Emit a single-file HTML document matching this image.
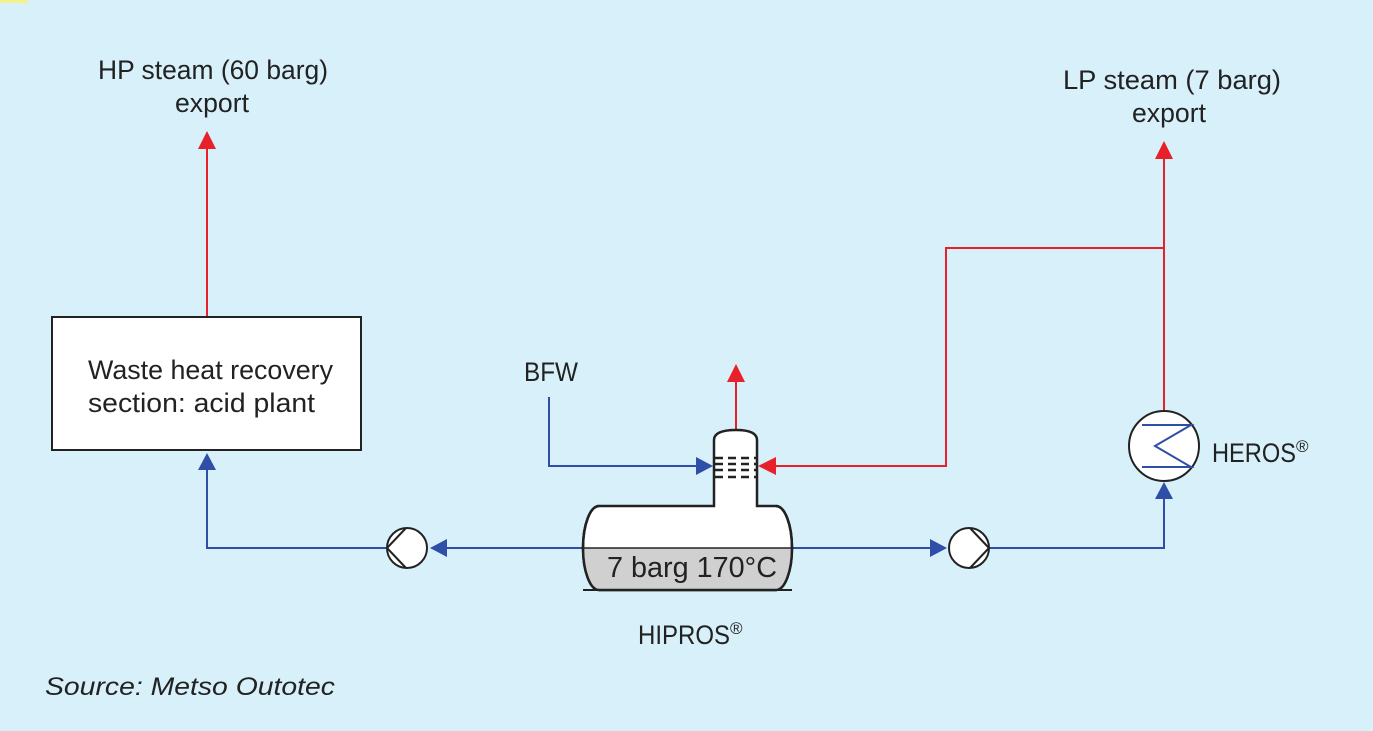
<!DOCTYPE html>
<html><head><style>
body{margin:0;background:#d7f0fa;}
svg{display:block;font-family:"Liberation Sans",sans-serif;}
text{fill:#222;font-size:27px;}
</style></head><body>
<svg width="1373" height="731" viewBox="0 0 1373 731">
<rect x="0" y="0" width="1373" height="731" fill="#d7f0fa"/>
<rect x="0" y="0" width="28" height="3" fill="#f4f08a"/>
<g fill="none" stroke-width="2">
<polyline points="207,460 207,548 387,548" stroke="#2f4ea8"/>
<line x1="440" y1="548" x2="583" y2="548" stroke="#2f4ea8"/>
<polyline points="549,397 549,466 700,466" stroke="#2f4ea8"/>
<line x1="792" y1="548" x2="935" y2="548" stroke="#2f4ea8"/>
<polyline points="989,548 1164,548 1164,492" stroke="#2f4ea8"/>
<line x1="207" y1="317" x2="207" y2="145" stroke="#e8202a"/>
<line x1="736" y1="430" x2="736" y2="380" stroke="#e8202a"/>
<polyline points="770,466 946,466 946,248 1164,248" stroke="#e8202a"/>
<line x1="1164" y1="412" x2="1164" y2="155" stroke="#e8202a"/>
</g>
<g fill="#2f4ea8">
<polygon points="207,453 198,470 216,470"/>
<polygon points="430,548 447,539 447,557"/>
<polygon points="713,466 696,457 696,475"/>
<polygon points="947,548 930,539 930,557"/>
<polygon points="1164,482 1155,499 1173,499"/>
</g>
<g fill="#e8202a">
<polygon points="207,131 198,149 216,149"/>
<polygon points="736,364 727,382 745,382"/>
<polygon points="758,466 776,457 776,475"/>
<polygon points="1164,141 1155,159 1173,159"/>
</g>
<rect x="52" y="317" width="309" height="133" fill="#fff" stroke="#222" stroke-width="2"/>
<text x="88" y="379" textLength="245" lengthAdjust="spacingAndGlyphs">Waste heat recovery</text>
<text x="88" y="412" textLength="227" lengthAdjust="spacingAndGlyphs">section: acid plant</text>
<path d="M714,506 L714,440 Q714,430 736,430 Q757,430 757,440 L757,506 L776,506 A16,42 0 0 1 776,590 L599,590 A16,42 0 0 1 599,506 Z" fill="#fff" stroke="#222" stroke-width="2.5"/>
<path d="M584,548 L791,548 A15,42 0 0 1 776,590 L599,590 A15,42 0 0 1 584,548 Z" fill="#d0d0d0"/>
<line x1="584" y1="548" x2="791" y2="548" stroke="#222" stroke-width="1.5"/>
<path d="M599,506 A16,42 0 0 0 599,590 L776,590 A16,42 0 0 0 776,506" fill="none" stroke="#222" stroke-width="2.5"/>
<line x1="583" y1="590" x2="792" y2="590" stroke="#222" stroke-width="2"/>
<g stroke="#222" stroke-width="2.5">
<line x1="715" y1="458" x2="756" y2="458" stroke-dasharray="8,5"/>
<line x1="715" y1="464" x2="756" y2="464" stroke-dasharray="8,5"/>
<line x1="715" y1="470" x2="756" y2="470" stroke-dasharray="8,5"/>
<line x1="715" y1="477" x2="756" y2="477" stroke-dasharray="8,5"/>
</g>
<text x="607" y="577" style="font-size:29px" textLength="170" lengthAdjust="spacingAndGlyphs">7 barg 170°C</text>
<circle cx="407" cy="548" r="20" fill="#fff" stroke="#222" stroke-width="2"/>
<polyline points="406,528 387,548 406,568" fill="none" stroke="#222" stroke-width="2"/>
<circle cx="969" cy="548" r="20" fill="#fff" stroke="#222" stroke-width="2"/>
<polyline points="970,528 989,548 970,568" fill="none" stroke="#222" stroke-width="2"/>
<circle cx="1164" cy="446" r="35" fill="#fff" stroke="#222" stroke-width="2"/>
<polyline points="1142,425 1191,425 1155,446 1191,467 1142,467" fill="none" stroke="#2f4ea8" stroke-width="2"/>
<text x="98" y="79" textLength="230" lengthAdjust="spacingAndGlyphs">HP steam (60 barg)</text>
<text x="175" y="112" textLength="74" lengthAdjust="spacingAndGlyphs">export</text>
<text x="1063" y="89" textLength="218" lengthAdjust="spacingAndGlyphs">LP steam (7 barg)</text>
<text x="1132" y="122" textLength="74" lengthAdjust="spacingAndGlyphs">export</text>
<text x="524" y="381" textLength="54" lengthAdjust="spacingAndGlyphs">BFW</text>
<text x="1212" y="462" textLength="84" lengthAdjust="spacingAndGlyphs">HEROS</text><text x="1296" y="452" style="font-size:17px">®</text>
<text x="638" y="644" textLength="92" lengthAdjust="spacingAndGlyphs">HIPROS</text><text x="730" y="634" style="font-size:17px">®</text>
<text x="45" y="695" style="font-style:italic;font-size:25px" textLength="290" lengthAdjust="spacingAndGlyphs">Source: Metso Outotec</text>
</svg>
</body></html>
